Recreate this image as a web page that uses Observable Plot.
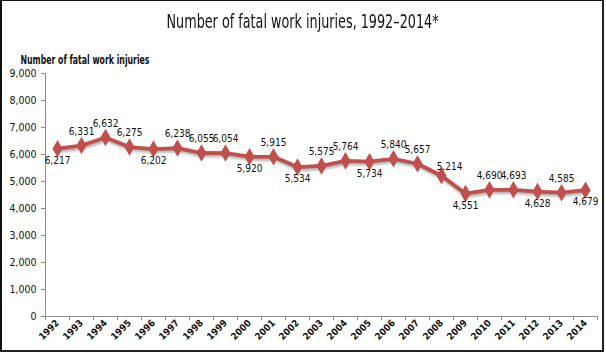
<!DOCTYPE html>
<html>
<head>
<meta charset="utf-8">
<script src="https://cdn.jsdelivr.net/npm/d3@7"></script>
<script src="https://cdn.jsdelivr.net/npm/@observablehq/plot@0.6"></script>
<style>
  html, body { margin: 0; padding: 0; background: #fff; }
  #wrap { position: relative; width: 606px; height: 353px; overflow: hidden; background: #fff; }
  #frame { position: absolute; left: 0; top: 0; width: 604px; height: 352px; box-sizing: border-box;
           border-top: 1px solid #111; border-left: 2px solid #111; border-right: 2px solid #222; border-bottom: 2px solid #222; pointer-events: none; }
  #title { height: 40px; box-sizing: border-box; padding-top: 9px; text-align: center; white-space: nowrap; }
  #title span { display: inline-block; transform: scaleX(0.71); transform-origin: center;
           font-family: "DejaVu Sans Condensed", "DejaVu Sans", sans-serif; font-size: 20px; color: #111; }
  g[aria-label="line"] { filter: drop-shadow(1px 2px 1.5px rgba(0,0,0,0.35)); }
</style>
</head>
<body>
<div id="wrap">
  <div id="title"><span>Number of fatal work injuries, 1992–2014*</span></div>
  <div id="chart"></div>
  <div id="frame"></div>
</div>
<script>
const years = [1992,1993,1994,1995,1996,1997,1998,1999,2000,2001,2002,2003,2004,2005,2006,2007,2008,2009,2010,2011,2012,2013,2014];
const injuries = [6217,6331,6632,6275,6202,6238,6055,6054,5920,5915,5534,5575,5764,5734,5840,5657,5214,4551,4690,4693,4628,4585,4679];
const yTicks = [0,1000,2000,3000,4000,5000,6000,7000,8000,9000];
const yTitle = "Number of fatal work injuries";
const labelsBelow = [1992,1996,2000,2002,2005,2009,2012,2014];
const labelsRight = [2008];

const data = years.map((y, i) => ({year: y, value: injuries[i]}));
const above = data.filter(d => !labelsBelow.includes(d.year) && !labelsRight.includes(d.year));
const below = data.filter(d => labelsBelow.includes(d.year));
const right = data.filter(d => labelsRight.includes(d.year));
const x0 = years[0] - 0.5, x1 = years[years.length - 1] + 0.5;
const bounds = years.map(y => y - 0.5).concat([x1]);
const fmt = d3.format(",");
const font = "DejaVu Sans Condensed, DejaVu Sans, sans-serif";
const red = "#c0504d";
const axisGray = "#8c8c8c";

const chart = Plot.plot({
  width: 606,
  height: 313,
  marginLeft: 45,
  marginRight: 9,
  marginTop: 33,
  marginBottom: 37,
  style: {fontFamily: font, fontSize: "10px", color: "#111", background: "transparent"},
  x: {domain: [x0, x1]},
  y: {domain: [0, 9000]},
  marks: [
    Plot.text([yTitle], {frameAnchor: "top-left", dx: -25, dy: -18, text: d => d, textAnchor: "start", fontSize: 11.5, fontWeight: "bold", fill: "#111"}),
    Plot.axisY({ticks: yTicks, tickFormat: fmt, tickSize: 4, tickPadding: 5, stroke: axisGray, label: null, fontSize: 10.5}),
    Plot.axisX({ticks: bounds, tickFormat: () => "", tickSize: 4, stroke: axisGray, label: null}),
    Plot.axisX({ticks: years, tickFormat: d => String(d), tickSize: 0, tickRotate: -45, tickPadding: 2, dy: 3, label: null, fontSize: 9.5, fontWeight: "bold"}),
    Plot.ruleX([x0], {y1: 0, y2: 9000, stroke: axisGray}),
    Plot.ruleY([0], {stroke: axisGray}),
    Plot.line(data, {x: "year", y: "value", stroke: red, strokeWidth: 3.8}),
    Plot.dot(data, {x: "year", y: "value", symbol: "diamond", r: 4.4, fill: red, stroke: red}),
    Plot.text(above, {x: "year", y: "value", text: d => fmt(d.value), dy: -14, fontSize: 10, fill: "#111"}),
    Plot.text(below, {x: "year", y: "value", text: d => fmt(d.value), dy: 12, fontSize: 10, fill: "#111"}),
    Plot.text(right, {x: "year", y: "value", text: d => fmt(d.value), dx: 8, dy: -9, fontSize: 10, fill: "#111"})
  ]
});
document.getElementById("chart").appendChild(chart);
// fit the y-axis title to the reference's narrow type
d3.select(chart).select('g[aria-label="text"] text')
  .attr("textLength", 129).attr("lengthAdjust", "spacingAndGlyphs");
</script>
</body>
</html>
